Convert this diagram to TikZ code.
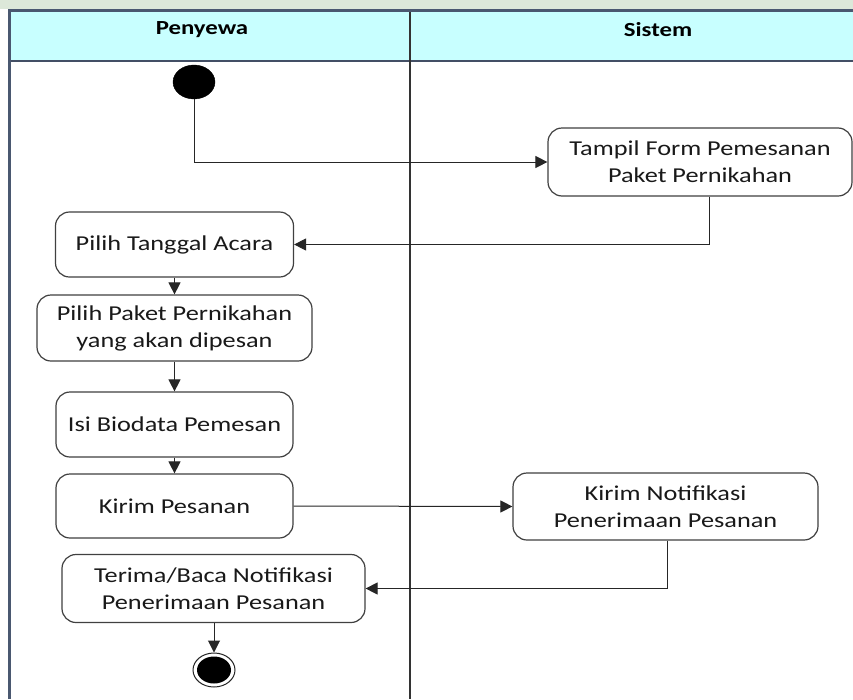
\documentclass[tikz,border=0pt]{standalone}
\usepackage{fontspec}
\setmainfont{Carlito}[FakeStretch=1.24]
\usetikzlibrary{arrows.meta,calc,shapes.geometric}
\definecolor{headfill}{HTML}{C8FFFF}
\definecolor{framecol}{HTML}{4A5870}
\definecolor{boxline}{HTML}{404040}
\definecolor{topstrip}{HTML}{DCE8D9}
\tikzset{
  act/.style={draw=boxline, line width=1.2pt, rounded corners=14pt, fill=white,
    align=center, inner sep=0pt, font=\fontsize{21.2}{27}\selectfont, text=black!90},
  flow/.style={draw=black!85, line width=1pt, -{Triangle[length=12pt,width=12pt]}},
  headtext/.style={font=\bfseries\fontsize{20}{24}\selectfont, text=black},
  startdot/.style={ellipse, fill=black, draw=black, minimum width=42pt, minimum height=34pt, inner sep=0pt},
}
\begin{document}
\begin{tikzpicture}[x=1pt,y=-1pt]
\useasboundingbox (0,0) rectangle (853,699);
\fill[white] (0,0) rectangle (853,699);
\fill[topstrip] (0,0) rectangle (853,9);
% header
\fill[headfill] (9,10) rectangle (853,61);
\draw[framecol!90!black, line width=2.5pt] (853,61) -- (9,61);
\draw[black!80, line width=1.3pt] (410,10) -- (410,699);
\draw[framecol, line width=3pt] (9,699) -- (9,10) -- (853,10);
\node[headtext] (h1) at (202,30) {Penyewa};
\node[headtext] (h2) at (658,30) {Sistem};
% nodes
\node[startdot] (start) at (194,82) {};
\node[act, minimum width=304pt, minimum height=68pt] (tampil) at (700,162) {Tampil Form Pemesanan\\Paket Pernikahan};
\node[act, minimum width=238pt, minimum height=65pt] (tanggal) at (174.5,244.5) {Pilih Tanggal Acara};
\node[act, minimum width=275pt, minimum height=66pt] (paket) at (174.5,328) {Pilih Paket Pernikahan\\yang akan dipesan};
\node[act, minimum width=237pt, minimum height=65pt] (bio) at (174.5,424.5) {Isi Biodata Pemesan};
\node[act, minimum width=237pt, minimum height=64pt] (kirim) at (174.5,506) {Kirim Pesanan};
\node[act, minimum width=305pt, minimum height=67pt] (notif) at (665.5,506.5) {Kirim Notifikasi\\Penerimaan Pesanan};
\node[act, minimum width=303pt, minimum height=68pt] (terima) at (213.5,588.5) {Terima/Baca Notifikasi\\Penerimaan Pesanan};
\node[ellipse, draw=black!85, line width=1pt, fill=white, minimum width=42pt, minimum height=34pt, inner sep=0pt] (end) at (214,670) {};
\node[ellipse, fill=black, minimum width=34pt, minimum height=27pt, inner sep=0pt] (endin) at (214,670) {};
% connectors
\draw[flow] (start.south) |- (tampil.west);
\draw[flow] ([xshift=9pt]tampil.south) |- (tanggal.east);
\draw[flow] (tanggal.south) -- (paket.north);
\draw[flow] (paket.south) -- (bio.north);
\draw[flow] (bio.south) -- (kirim.north);
\draw[flow] (kirim.east) -- (notif.west);
\draw[flow] ([xshift=1.5pt]notif.south) |- (terima.east);
\draw[flow] ([xshift=0.5pt]terima.south) -- (end.north);
\end{tikzpicture}
\end{document}
